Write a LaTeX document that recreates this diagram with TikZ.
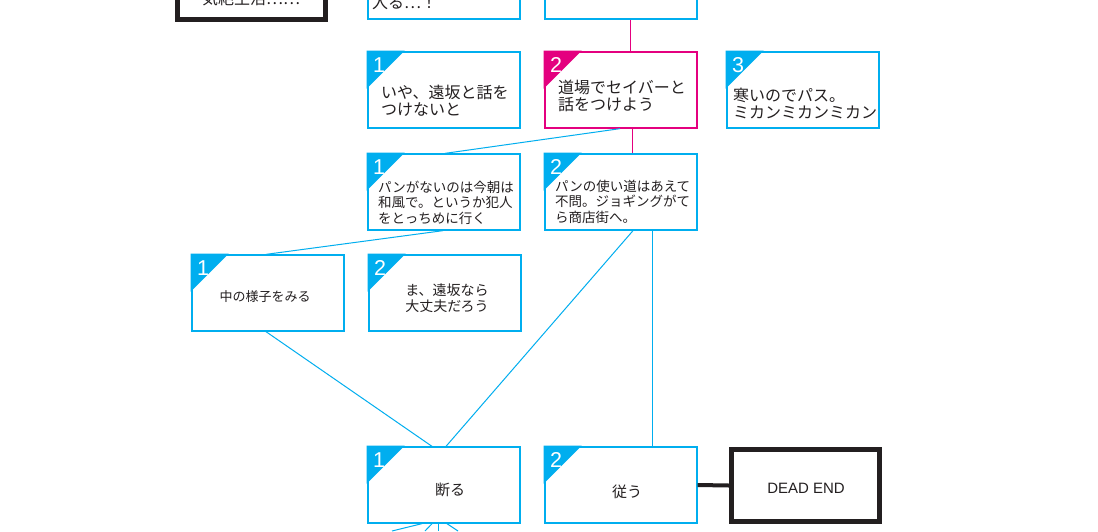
\documentclass[tikz,border=0pt]{standalone}
\usepackage{fontspec}
\setmainfont{Noto Sans CJK JP}
\newfontfamily\latinsans{Liberation Sans}
\usetikzlibrary{calc}
\definecolor{cy}{RGB}{0,174,239}
\definecolor{pk}{RGB}{228,0,127}
\definecolor{ink}{RGB}{35,31,32}
\tikzset{
 choice/.style={draw=cy, line width=1.3pt, fill=white, minimum width=152pt, minimum height=76pt, inner sep=0pt},
 pchoice/.style={choice, draw=pk},
 endbox/.style={draw=ink, line width=5pt, fill=white, minimum width=148pt, minimum height=72pt, inner sep=0pt},
 link/.style={draw=cy, line width=1pt},
 plink/.style={draw=pk, line width=1pt},
 blink/.style={draw=ink, line width=4pt},
 num/.style={text=white, font=\latinsans\fontsize{21.5}{21.5}\selectfont, anchor=base west, inner sep=0pt},
 jtxt/.style={anchor=north west, inner sep=0pt, align=left, text=ink, font=\fontsize{16}{16.5}\selectfont},
 stxt/.style={anchor=north west, inner sep=0pt, align=left, text=ink, font=\fontsize{13.5}{15.3}\selectfont},
 ctxt/.style={anchor=center, inner sep=0pt, align=center, text=ink, font=\fontsize{14}{16.5}\selectfont},
}
\newcommand\mytag[3]{%
 \fill[#2] ([shift={(-0.65,-0.65)}]#1.north west) -- ++(38,0) -- ++(-38,38) -- cycle;
 \node[num] (#1n) at ([shift={(5.5,21.5)}]#1.north west) {#3};
}
\begin{document}
\begin{tikzpicture}[x=1pt,y=-1pt]
\useasboundingbox (0,0) rectangle (1098,531);
\begin{scope}
\clip (0,0) rectangle (1098,531);
\fill[white] (0,0) rectangle (1098,531);
% nodes
\node[endbox] (t1) at (251.5,-17) {};
\node[choice] (t2) at (444,-19) {};
\node[choice] (t3) at (621,-19) {};
\node[choice] (b21) at (444,90) {};
\node[pchoice] (b22) at (621,90) {};
\node[choice] (b23) at (803,90) {};
\node[choice] (b31) at (444,192) {};
\node[choice] (b32) at (621,192) {};
\node[choice] (b41) at (268,293) {};
\node[choice] (b42) at (445,293) {};
\node[choice] (b51) at (444,485) {};
\node[choice] (b52) at (621,485) {};
\node[endbox] (de) at (805.5,485.5) {};
% free ends
\coordinate (e1) at (392,531);
\coordinate (e2) at (425,531);
\coordinate (e3) at (438,531);
\coordinate (e4) at (458,531);
% connectors
\draw[plink] ([xshift=9]t3.south) -- ([xshift=9]b22.north);
\draw[plink] ([xshift=11]b22.south) -- ([xshift=11]b32.north);
\draw[link] ([xshift=-1]b22.south) -- ([xshift=1]b31.north);
\draw[link] ([xshift=-1]b31.south) -- ([xshift=-2]b41.north);
\draw[link] ([xshift=-2]b41.south) -- ([xshift=-12]b51.north);
\draw[link] ([xshift=12]b32.south) -- ([xshift=2]b51.north);
\draw[link] ([xshift=31]b32.south) -- ([xshift=31,yshift=-2]b52.north);
\draw[blink] (b52.east) -- (de.west);
\draw[link] ([xshift=-22]b51.south) -- (e1);
\draw[link] ([xshift=-12]b51.south) -- (e2);
\draw[link] ([xshift=-6]b51.south) -- (e3);
\draw[link] ([xshift=3]b51.south) -- (e4);
% tags
\mytag{b21}{cy}{1}
\mytag{b22}{pk}{2}
\mytag{b23}{cy}{3}
\mytag{b31}{cy}{1}
\mytag{b32}{cy}{2}
\mytag{b41}{cy}{1}
\mytag{b42}{cy}{2}
\mytag{b51}{cy}{1}
\mytag{b52}{cy}{2}
% texts
\node[ctxt, anchor=base, font=\fontsize{16}{17}\selectfont] (t1t) at (251,4) {気絶生活……};
\node[jtxt, anchor=base west] (t2t) at (372,8) {入る…！};
\node[jtxt, anchor=base west, text=black!45] (t3t) at (552,-1.5) {ここで待つ};
\node[jtxt] (b21t) at (381,85) {いや、遠坂と話を\\つけないと};
\node[jtxt] (b22t) at (558,80) {道場でセイバーと\\話をつけよう};
\node[jtxt] (b23t) at (733,88) {寒いのでパス。\\ミカンミカンミカン};
\node[stxt] (b31t) at (378,181) {パンがないのは今朝は\\和風で。というか犯人\\をとっちめに行く};
\node[stxt] (b32t) at (555,180) {パンの使い道はあえて\\不問。ジョギングがて\\ら商店街へ。};
\node[ctxt, font=\fontsize{13}{15}\selectfont] (b41t) at (265,297) {中の様子をみる};
\node[ctxt] (b42t) at (447,298) {ま、遠坂なら\\大丈夫だろう};
\node[ctxt, font=\fontsize{15}{17}\selectfont] (b51t) at (450,490) {断る};
\node[ctxt, font=\fontsize{15}{17}\selectfont] (b52t) at (627,492) {従う};
\node[ctxt, font=\latinsans\fontsize{15}{17}\selectfont] (det) at (806,488) {DEAD END};
\end{scope}
\end{tikzpicture}
\end{document}
